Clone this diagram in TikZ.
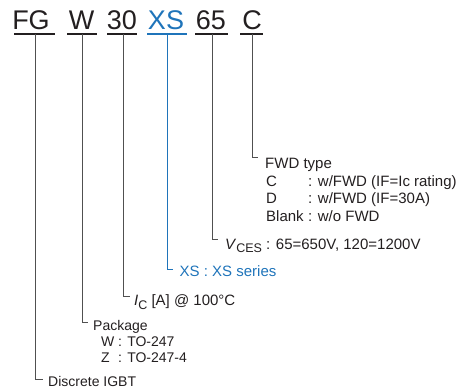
\documentclass[tikz,border=0pt]{standalone}
\usepackage{fontspec}
\setmainfont{Liberation Sans}
\usetikzlibrary{calc}
\definecolor{txt}{HTML}{231F20}
\definecolor{ln}{HTML}{505050}
\definecolor{blu}{HTML}{1F74BA}
\begin{document}
\begin{tikzpicture}[x=1pt,y=-1pt,
  big/.style={font=\fontsize{27}{27}\selectfont, text=txt, inner sep=0pt, anchor=base},
  lbl/.style={font=\fontsize{15}{15}\selectfont, text=txt, inner sep=0pt, anchor=base west},
  slbl/.style={font=\fontsize{14}{14}\selectfont, text=txt, inner sep=0pt, anchor=base west},
  uline/.style={draw=txt, line width=1.4pt},
  conn/.style={draw=ln, line width=0.8pt},
]
\useasboundingbox (0,0) rectangle (471,389);
% top code letters
\node[big] (fg) at (31,29) {FG};
\node[big] (w) at (81.5,29) {W};
\node[big] (n30) at (122,29) {30};
\node[big,text=blu] (xs) at (166,29) {XS};
\node[big] (n65) at (211,29) {65};
\node[big] (c) at (252,29) {C};
% underlines
\draw[uline] (14,34) -- (55,34);
\draw[uline] (67,34) -- (97,34);
\draw[uline] (107,34) -- (137,34);
\draw[uline,draw=blu] (147,34) -- (187,34);
\draw[uline] (195,34) -- (228,34);
\draw[uline] (240,34) -- (263,34);
% start points of connectors
\coordinate (fgd) at (35,34);
\coordinate (wd) at (82,34);
\coordinate (n30d) at (123,34);
\coordinate (xsd) at (167,34);
\coordinate (n65d) at (212,34);
\coordinate (cd) at (252,34);
% labels
\node[slbl] (disc) at (48,386) {Discrete IGBT};
\node[slbl] (pkg) at (93,330) {Package};
\node[slbl] (pkgw) at (101,346.5) {\makebox[17pt][l]{W}: TO-247};
\node[slbl] (pkgz) at (101,362.5) {\makebox[17pt][l]{Z}: TO-247-4};
\node[lbl] (ic) at (134,305.5) {\textit{I}\raisebox{-3.5pt}{\fontsize{12.5}{12.5}\selectfont C} [A] @ 100°C};
\node[lbl,text=blu] (xsl) at (179.5,276) {XS : XS series};
\node[lbl] (vces) at (225,249.5) {\textit{V}\raisebox{-3pt}{\fontsize{12.5}{12.5}\selectfont CES} : 65=650V, 120=1200V};
\node[lbl] (fwd) at (265,168) {FWD type};
\node[lbl] (fwdc) at (266,186) {\makebox[42pt][l]{C}: w/FWD (IF=Ic rating)};
\node[lbl] (fwdd) at (266,203.5) {\makebox[42pt][l]{D}: w/FWD (IF=30A)};
\node[lbl] (fwdb) at (266,221) {\makebox[42pt][l]{Blank}: w/o FWD};
% connectors
\draw[conn] (fgd) |- ($(disc.base west)+(-5,-7)$);
\draw[conn] (wd) |- ($(pkg.base west)+(-5,-8)$);
\draw[conn] (n30d) |- ($(ic.base west)+(-4,-9)$);
\draw[conn,draw=blu] (xsd) |- ($(xsl.base west)+(-6.5,-6.5)$);
\draw[conn] (n65d) |- ($(vces.base west)+(-7,-10)$);
\draw[conn] (cd) |- ($(fwd.base west)+(-7,-10.5)$);
\end{tikzpicture}
\end{document}
